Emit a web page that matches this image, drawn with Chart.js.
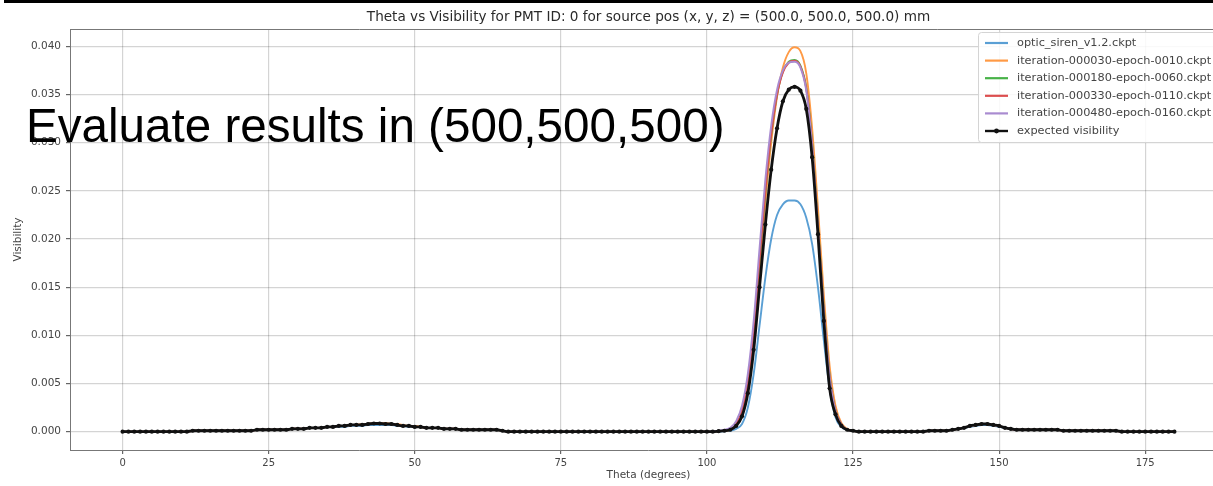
<!DOCTYPE html>
<html>
<head>
<meta charset="utf-8">
<script src="https://cdn.jsdelivr.net/npm/chart.js@4.4.1/dist/chart.umd.min.js"></script>
<style>
  html, body { margin: 0; padding: 0; background: #fff; overflow: hidden; }
  #wrap { position: relative; width: 1213px; height: 486px; overflow: hidden; }
  canvas { position: absolute; left: 0; top: 0; }
  #topBar { position: absolute; left: 4px; right: 0; top: 0; height: 3px; background: #000; }
  #overlay {
    position: absolute; left: 26px; top: 102px;
    font-family: "Liberation Sans", Arial, sans-serif; font-size: 47.6px; line-height: 47.6px;
    color: #000; white-space: nowrap;
  }
</style>
</head>
<body>
<div id="wrap">
  <canvas id="chart" width="1240" height="486"></canvas>
  <div id="topBar"></div>
  <div id="overlay">Evaluate results in (500,500,500)</div>
</div>
<script>
// theta in degrees, one sample per degree
const theta = [
  0,1,2,3,4,5,6,7,8,9,10,11,12,13,14,15,16,17,18,19,
  20,21,22,23,24,25,26,27,28,29,30,31,32,33,34,35,36,37,38,39,
  40,41,42,43,44,45,46,47,48,49,50,51,52,53,54,55,56,57,58,59,
  60,61,62,63,64,65,66,67,68,69,70,71,72,73,74,75,76,77,78,79,
  80,81,82,83,84,85,86,87,88,89,90,91,92,93,94,95,96,97,98,99,
  100,101,102,103,104,105,106,107,108,109,110,111,112,113,114,115,116,117,118,119,
  120,121,122,123,124,125,126,127,128,129,130,131,132,133,134,135,136,137,138,139,
  140,141,142,143,144,145,146,147,148,149,150,151,152,153,154,155,156,157,158,159,
  160,161,162,163,164,165,166,167,168,169,170,171,172,173,174,175,176,177,178,179,
  180
];

const expectedVis = [
  0,0,0,0,0,0,0,0,0,0,
  0,0,0.0001,0.0001,0.0001,0.0001,0.0001,0.0001,0.0001,0.0001,
  0.0001,0.0001,0.0001,0.0002,0.0002,0.0002,0.0002,0.0002,0.0002,0.0003,
  0.0003,0.0003,0.0004,0.0004,0.0004,0.0005,0.0005,0.0006,0.0006,0.0007,
  0.0007,0.0007,0.0008,0.00085,0.00085,0.0008,0.0008,0.0007,0.0006,0.0006,
  0.0005,0.0005,0.0004,0.0004,0.0004,0.0003,0.0003,0.0003,0.0002,0.0002,
  0.0002,0.0002,0.0002,0.0002,0.0002,0.0001,0,0,0,0,
  0,0,0,0,0,0,0,0,0,0,
  0,0,0,0,0,0,0,0,0,0,
  0,0,0,0,0,0,0,0,0,0,
  0,0,0.00005,0.0001,0.0002,0.0006,0.0016,0.0040,0.0085,0.0150,
  0.0215,0.0272,0.0315,0.0343,0.0355,0.0358,0.0354,0.0335,0.0285,0.0205,
  0.0115,0.0045,0.0018,0.0006,0.0002,0.0001,0,0,0,0,
  0,0,0,0,0,0,0,0,0.0001,0.0001,
  0.0001,0.0001,0.0002,0.0003,0.0004,0.0006,0.0007,0.0008,0.0008,0.0007,
  0.0006,0.0004,0.0003,0.0002,0.0002,0.0002,0.0002,0.0002,0.0002,0.0002,
  0.0002,0.0001,0.0001,0.0001,0.0001,0.0001,0.0001,0.0001,0.0001,0.0001,
  0.0001,0,0,0,0,0,0,0,0,0,
  0
];

const opticSiren = [
  0,0,0,0,0,0,0,0,0,0,
  0,0,0.0001,0.0001,0.0001,0.0001,0.0001,0.0001,0.0001,0.0001,
  0.0001,0.0001,0.0001,0.0002,0.0002,0.0002,0.0002,0.0002,0.0002,0.0003,
  0.0003,0.0003,0.0004,0.0004,0.0004,0.0005,0.0005,0.0005,0.0005,0.0006,
  0.0006,0.0006,0.0007,0.0007,0.0007,0.0007,0.0007,0.0006,0.0006,0.0005,
  0.0005,0.0005,0.0004,0.0004,0.0004,0.0003,0.0003,0.0003,0.0002,0.0002,
  0.0002,0.0002,0.0002,0.0002,0.0002,0.0001,0,0,0,0,
  0,0,0,0,0,0,0,0,0,0,
  0,0,0,0,0,0,0,0,0,0,
  0,0,0,0,0,0,0,0,0,0,
  0,0,0,0.00005,0.0001,0.0003,0.0008,0.0025,0.0060,0.0110,
  0.0160,0.0200,0.0225,0.0236,0.0240,0.0240,0.0236,0.0222,0.0195,0.0150,
  0.0095,0.0045,0.0015,0.0005,0.0002,0.0001,0,0,0,0,
  0,0,0,0,0,0,0,0,0.0001,0.0001,
  0.0001,0.0001,0.0002,0.0003,0.0004,0.0005,0.0006,0.0007,0.0007,0.0006,
  0.0005,0.0004,0.0003,0.0002,0.0002,0.0002,0.0002,0.0002,0.0002,0.0002,
  0.0002,0.0001,0.0001,0.0001,0.0001,0.0001,0.0001,0.0001,0.0001,0.0001,
  0.0001,0,0,0,0,0,0,0,0,0,
  0
];

const iter030 = [
  0,0,0,0,0,0,0,0,0,0,
  0,0,0.0001,0.0001,0.0001,0.0001,0.0001,0.0001,0.0001,0.0001,
  0.0001,0.0001,0.0001,0.0002,0.0002,0.0002,0.0002,0.0002,0.0002,0.0003,
  0.0003,0.0003,0.0004,0.0004,0.0004,0.0005,0.0005,0.0006,0.0006,0.0007,
  0.0007,0.0008,0.0008,0.0009,0.0009,0.0009,0.0008,0.0008,0.0007,0.0006,
  0.0006,0.0005,0.0004,0.0004,0.0004,0.0003,0.0003,0.0003,0.0002,0.0002,
  0.0002,0.0002,0.0002,0.0002,0.0002,0.0001,0,0,0,0,
  0,0,0,0,0,0,0,0,0,0,
  0,0,0,0,0,0,0,0,0,0,
  0,0,0,0,0,0,0,0,0,0,
  0,0,0.00005,0.0001,0.0002,0.0007,0.0019,0.0045,0.0095,0.0165,
  0.0238,0.0300,0.0348,0.0378,0.0394,0.0399,0.0395,0.0372,0.0315,0.0232,
  0.0142,0.0068,0.0027,0.0009,0.0003,0.0001,0,0,0,0,
  0,0,0,0,0,0,0,0,0.0001,0.0001,
  0.0001,0.0001,0.0002,0.0003,0.0004,0.0006,0.0007,0.0008,0.0008,0.0007,
  0.0006,0.0004,0.0003,0.0002,0.0002,0.0002,0.0002,0.0002,0.0002,0.0002,
  0.0002,0.0001,0.0001,0.0001,0.0001,0.0001,0.0001,0.0001,0.0001,0.0001,
  0.0001,0,0,0,0,0,0,0,0,0,
  0
];

const iter180 = [
  0,0,0,0,0,0,0,0,0,0,
  0,0,0.0001,0.0001,0.0001,0.0001,0.0001,0.0001,0.0001,0.0001,
  0.0001,0.0001,0.0001,0.0002,0.0002,0.0002,0.0002,0.0002,0.0002,0.0003,
  0.0003,0.0003,0.0004,0.0004,0.0004,0.0005,0.0005,0.0006,0.0006,0.0007,
  0.0007,0.0007,0.0008,0.00085,0.00085,0.0008,0.0008,0.0007,0.0006,0.0006,
  0.0005,0.0005,0.0004,0.0004,0.0004,0.0003,0.0003,0.0003,0.0002,0.0002,
  0.0002,0.0002,0.0002,0.0002,0.0002,0.0001,0,0,0,0,
  0,0,0,0,0,0,0,0,0,0,
  0,0,0,0,0,0,0,0,0,0,
  0,0,0,0,0,0,0,0,0,0,
  0,0,0.00005,0.0001,0.0002,0.0008,0.0021,0.0050,0.0102,0.0175,
  0.0248,0.0308,0.0350,0.0374,0.0384,0.0386,0.0380,0.0357,0.0300,0.0215,
  0.0128,0.0058,0.0022,0.0008,0.0002,0.0001,0,0,0,0,
  0,0,0,0,0,0,0,0,0.0001,0.0001,
  0.0001,0.0001,0.0002,0.0003,0.0004,0.0006,0.0007,0.0008,0.0008,0.0007,
  0.0006,0.0004,0.0003,0.0002,0.0002,0.0002,0.0002,0.0002,0.0002,0.0002,
  0.0002,0.0001,0.0001,0.0001,0.0001,0.0001,0.0001,0.0001,0.0001,0.0001,
  0.0001,0,0,0,0,0,0,0,0,0,
  0
];

const iter330 = [
  0,0,0,0,0,0,0,0,0,0,
  0,0,0.0001,0.0001,0.0001,0.0001,0.0001,0.0001,0.0001,0.0001,
  0.0001,0.0001,0.0001,0.0002,0.0002,0.0002,0.0002,0.0002,0.0002,0.0003,
  0.0003,0.0003,0.0004,0.0004,0.0004,0.0005,0.0005,0.0006,0.0006,0.0007,
  0.0007,0.0007,0.0008,0.00085,0.00085,0.0008,0.0008,0.0007,0.0006,0.0006,
  0.0005,0.0005,0.0004,0.0004,0.0004,0.0003,0.0003,0.0003,0.0002,0.0002,
  0.0002,0.0002,0.0002,0.0002,0.0002,0.0001,0,0,0,0,
  0,0,0,0,0,0,0,0,0,0,
  0,0,0,0,0,0,0,0,0,0,
  0,0,0,0,0,0,0,0,0,0,
  0,0,0.00005,0.0001,0.0002,0.0008,0.0022,0.0052,0.0105,0.0178,
  0.0250,0.0309,0.0350,0.0373,0.0383,0.0385,0.0379,0.0356,0.0298,0.0213,
  0.0126,0.0057,0.0022,0.0008,0.0002,0.0001,0,0,0,0,
  0,0,0,0,0,0,0,0,0.0001,0.0001,
  0.0001,0.0001,0.0002,0.0003,0.0004,0.0006,0.0007,0.0008,0.0008,0.0007,
  0.0006,0.0004,0.0003,0.0002,0.0002,0.0002,0.0002,0.0002,0.0002,0.0002,
  0.0002,0.0001,0.0001,0.0001,0.0001,0.0001,0.0001,0.0001,0.0001,0.0001,
  0.0001,0,0,0,0,0,0,0,0,0,
  0
];

const iter480 = [
  0,0,0,0,0,0,0,0,0,0,
  0,0,0.0001,0.0001,0.0001,0.0001,0.0001,0.0001,0.0001,0.0001,
  0.0001,0.0001,0.0001,0.0002,0.0002,0.0002,0.0002,0.0002,0.0002,0.0003,
  0.0003,0.0003,0.0004,0.0004,0.0004,0.0005,0.0005,0.0006,0.0006,0.0007,
  0.0007,0.0007,0.0008,0.00085,0.00085,0.0008,0.0008,0.0007,0.0006,0.0006,
  0.0005,0.0005,0.0004,0.0004,0.0004,0.0003,0.0003,0.0003,0.0002,0.0002,
  0.0002,0.0002,0.0002,0.0002,0.0002,0.0001,0,0,0,0,
  0,0,0,0,0,0,0,0,0,0,
  0,0,0,0,0,0,0,0,0,0,
  0,0,0,0,0,0,0,0,0,0,
  0,0.00005,0.0001,0.0002,0.0004,0.0011,0.0027,0.0060,0.0115,0.0190,
  0.0262,0.0318,0.0355,0.0375,0.0383,0.0384,0.0378,0.0354,0.0296,0.0210,
  0.0124,0.0056,0.0021,0.0007,0.0002,0.0001,0,0,0,0,
  0,0,0,0,0,0,0,0,0.0001,0.0001,
  0.0001,0.0001,0.0002,0.0003,0.0004,0.0006,0.0007,0.0008,0.0008,0.0007,
  0.0006,0.0004,0.0003,0.0002,0.0002,0.0002,0.0002,0.0002,0.0002,0.0002,
  0.0002,0.0001,0.0001,0.0001,0.0001,0.0001,0.0001,0.0001,0.0001,0.0001,
  0.0001,0,0,0,0,0,0,0,0,0,
  0
];

const seriesLabels = [
  'optic_siren_v1.2.ckpt',
  'iteration-000030-epoch-0010.ckpt',
  'iteration-000180-epoch-0060.ckpt',
  'iteration-000330-epoch-0110.ckpt',
  'iteration-000480-epoch-0160.ckpt',
  'expected visibility'
];
const seriesValues = [opticSiren, iter030, iter180, iter330, iter480, expectedVis];
const seriesColors = ['#5a9fd4', '#ff9a45', '#47b247', '#dc4e4f', '#a98bd0', '#111111'];

const xTicks = [0, 25, 50, 75, 100, 125, 150, 175];
const yTicks = [0, 0.005, 0.010, 0.015, 0.020, 0.025, 0.030, 0.035, 0.040];

const chartTitle = 'Theta vs Visibility for PMT ID: 0 for source pos (x, y, z) = (500.0, 500.0, 500.0) mm';

const toPoints = vals => theta.map((t, i) => ({ x: t, y: vals[i] }));

const datasets = seriesValues.map((vals, i) => {
  const isExpected = i === seriesValues.length - 1;
  return {
    label: seriesLabels[i],
    data: toPoints(vals),
    borderColor: seriesColors[i],
    backgroundColor: seriesColors[i],
    borderWidth: isExpected ? 2.8 : 1.9,
    pointRadius: isExpected ? 2.1 : 0,
    pointBorderWidth: 0,
    pointBackgroundColor: seriesColors[i],
    cubicInterpolationMode: 'monotone',
    // first dataset is drawn on top in Chart.js, so flip order to match matplotlib
    order: seriesValues.length - i
  };
});

// title and matplotlib-style legend box inside the axes
const decorPlugin = {
  id: 'decor',
  afterDatasetsDraw(chart) {
    const { ctx, chartArea } = chart;
    ctx.save();

    // top spine
    ctx.strokeStyle = '#777';
    ctx.lineWidth = 1;
    ctx.beginPath();
    ctx.moveTo(chartArea.left, chartArea.top + 0.5);
    ctx.lineTo(chartArea.right, chartArea.top + 0.5);
    ctx.stroke();

    // title
    ctx.fillStyle = '#2a2a2a';
    ctx.font = '13.6px "DejaVu Sans"';
    ctx.textAlign = 'center';
    ctx.textBaseline = 'middle';
    ctx.fillText(chartTitle, (chartArea.left + chartArea.right) / 2, 17);

    // legend
    const boxX = 978, boxY = 32, boxW = 260, boxH = 110;
    ctx.fillStyle = 'rgba(255,255,255,0.85)';
    ctx.strokeStyle = '#d4d4d4';
    ctx.beginPath();
    ctx.roundRect(boxX + 0.5, boxY + 0.5, boxW, boxH, 3);
    ctx.fill();
    ctx.stroke();

    ctx.font = '11.3px "DejaVu Sans"';
    ctx.textAlign = 'left';
    seriesLabels.forEach((lab, i) => {
      const y = 43 + i * 17.6;
      ctx.strokeStyle = seriesColors[i];
      ctx.lineWidth = i === seriesLabels.length - 1 ? 2.4 : 2.2;
      ctx.beginPath();
      ctx.moveTo(985, y);
      ctx.lineTo(1008, y);
      ctx.stroke();
      if (i === seriesLabels.length - 1) {
        ctx.fillStyle = seriesColors[i];
        ctx.beginPath();
        ctx.arc(996.5, y, 2.4, 0, Math.PI * 2);
        ctx.fill();
      }
      ctx.fillStyle = '#444';
      ctx.fillText(lab, 1017, y);
    });
    ctx.restore();
  }
};

new Chart(document.getElementById('chart'), {
  type: 'line',
  data: { datasets },
  options: {
    responsive: false,
    devicePixelRatio: 1,
    animation: false,
    layout: { padding: { top: 29, right: 13, left: 0, bottom: 0 } },
    plugins: {
      legend: { display: false },
      title: { display: false },
      tooltip: { enabled: false }
    },
    scales: {
      x: {
        type: 'linear',
        min: -9,
        max: 189,
        afterFit: s => { s.height = 36; },
        afterBuildTicks: s => { s.ticks = xTicks.map(v => ({ value: v })); },
        grid: { color: 'rgba(0,0,0,0.17)', lineWidth: 1.2, tickLength: 4, tickColor: '#666' },
        border: { color: '#777', width: 1 },
        ticks: {
          padding: 3,
          maxRotation: 0,
          color: '#444',
          font: { family: 'DejaVu Sans', size: 10 },
          callback: v => String(v)
        },
        title: {
          display: true,
          text: 'Theta (degrees)',
          color: '#444',
          font: { family: 'DejaVu Sans', size: 10.5 },
          padding: { top: 0, bottom: 4 }
        }
      },
      y: {
        type: 'linear',
        min: -0.0019,
        max: 0.0418,
        afterFit: s => { s.width = 70; },
        afterBuildTicks: s => { s.ticks = yTicks.map(v => ({ value: v })); },
        grid: { color: 'rgba(0,0,0,0.17)', lineWidth: 1.2, tickLength: 4, tickColor: '#666' },
        border: { color: '#777', width: 1 },
        ticks: {
          padding: 5,
          color: '#444',
          font: { family: 'DejaVu Sans', size: 10.5 },
          callback: v => v.toFixed(3)
        },
        title: {
          display: true,
          text: 'Visibility',
          color: '#444',
          font: { family: 'DejaVu Sans', size: 10.5 },
          padding: { top: 12, bottom: 0 }
        }
      }
    }
  },
  plugins: [decorPlugin]
});
</script>
</body>
</html>
